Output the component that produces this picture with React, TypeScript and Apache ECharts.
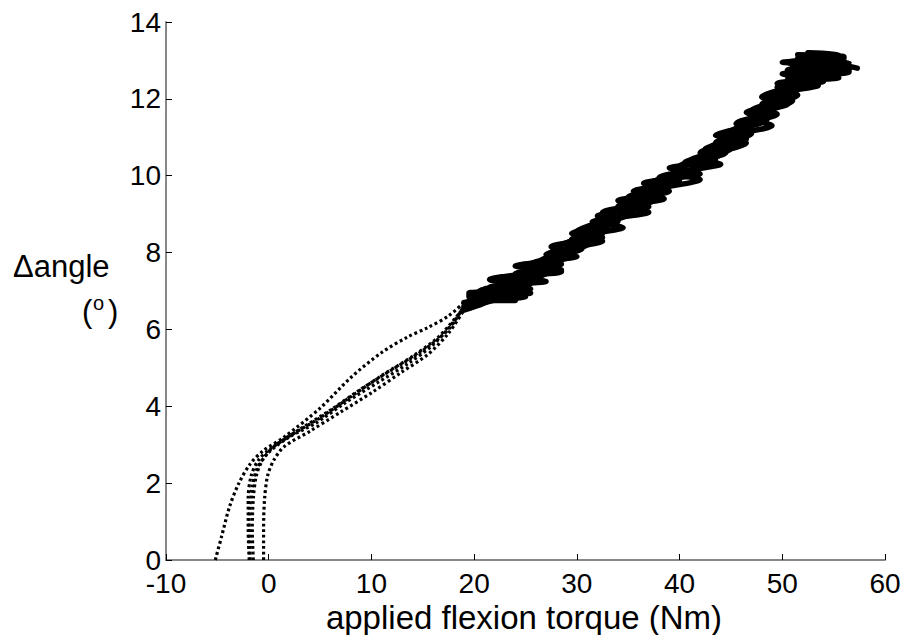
import React, { useEffect, useRef } from "react";
import * as echarts from "echarts";

// x: applied flexion torque (Nm), y: Δangle (deg)
const xTicks = [-10, 0, 10, 20, 30, 40, 50, 60];
const yTicks = [0, 2, 4, 6, 8, 10, 12, 14];
const xTitle = "applied flexion torque (Nm)";
const yTitle = "Δangle";

// initial (toe-region) portion of each trial, shown dotted
const approachA = [[-5.2,0],[-4.6,0.6],[-3.8,1.4],[-2.9,2.0],[-1.8,2.5],[-0.5,2.85],[1.5,3.2],[5.0,3.95],[8.0,4.75],[11.0,5.4],[13.5,5.8],[15.5,6.05],[17.5,6.35],[19.0,6.7]];
const approachB = [[-1.9,0],[-2.0,0.8],[-2.0,1.6],[-1.7,2.2],[-1.0,2.6],[0.2,2.9],[2.5,3.3],[5.0,3.7],[8.0,4.25],[11.0,4.8],[14.0,5.3],[16.5,5.8],[18.5,6.4],[19.5,6.75]];
const approachC = [[-1.5,0],[-1.6,0.8],[-1.5,1.6],[-1.2,2.2],[-0.6,2.6],[0.5,2.95],[3.0,3.4],[6.0,3.9],[9.0,4.45],[12.0,4.95],[15.0,5.45],[17.5,6.0],[19.0,6.6]];
const approachD = [[-1.8,0],[-1.9,1.0],[-1.6,1.9],[-1.1,2.4],[0.0,2.8],[2.0,3.2],[4.5,3.55],[7.5,4.1],[10.5,4.6],[13.5,5.1],[16.0,5.6],[18.0,6.2],[19.2,6.7]];
const approachE = [[-0.5,0],[-0.5,0.8],[-0.4,1.6],[-0.1,2.2],[0.5,2.6],[1.5,2.95],[4.0,3.35],[7.0,3.85],[10.0,4.35],[13.0,4.9],[15.5,5.35],[17.5,5.9],[19.0,6.5]];

// cyclic loading portion of each trial (dense, appears solid)
const loadingA = [[19.0,6.70],[25.0,6.85],[19.5,6.95],[25.5,7.05],[21.5,7.3],[28.5,7.55],[24.0,7.65],[29.5,7.9],[27.5,8.15],[32.5,8.4],[29.5,8.5],[34.0,8.8],[32.0,8.95],[37.0,9.2],[34.0,9.35],[39.0,9.6],[36.5,9.8],[42.0,10.05],[39.0,10.2],[43.5,10.4],[42.0,10.6],[46.5,10.95],[43.5,11.05],[48.5,11.45],[46.5,11.65],[50.5,11.85],[48.0,12.05],[53.0,12.5],[50.0,12.65],[56.5,12.75],[50.5,12.95],[56.0,13.1],[51.5,13.15],[57.3,12.8]];
const loadingB = [[19.5,6.75],[24.0,6.75],[21.0,6.85],[25.5,6.95],[23.0,7.15],[26.5,7.35],[24.0,7.45],[28.5,7.7],[26.5,7.8],[30.5,8.1],[29.0,8.25],[32.5,8.5],[31.0,8.6],[35.0,9.0],[33.5,9.1],[37.5,9.35],[36.0,9.5],[40.0,9.85],[38.5,9.95],[42.0,10.2],[41.0,10.3],[44.5,10.6],[43.0,10.75],[47.0,11.1],[46.0,11.3],[49.5,11.6],[48.0,11.75],[51.0,12.2],[50.0,12.35],[54.5,12.6],[50.5,12.75],[56.5,12.95],[51.5,13.05],[55.0,13.0]];
const loadingC = [[19.0,6.6],[22.5,6.8],[19.5,6.9],[25.0,7.0],[21.5,7.1],[27.0,7.25],[22.5,7.35],[28.5,7.5],[25.5,7.7],[30.0,7.9],[27.5,8.0],[32.5,8.3],[30.0,8.4],[34.5,8.65],[31.5,8.8],[37.0,9.05],[34.5,9.2],[38.5,9.4],[36.0,9.55],[42.0,9.9],[39.5,10.05],[44.0,10.3],[41.0,10.4],[46.5,10.85],[44.0,11.0],[49.0,11.3],[47.0,11.5],[51.0,11.95],[48.5,12.1],[53.5,12.35],[50.5,12.5],[56.5,12.7],[51.5,12.85],[55.5,13.15],[52.5,13.2],[56.0,13.05]];
const loadingD = [[19.2,6.7],[22.5,6.9],[20.5,7.0],[24.0,7.2],[22.0,7.3],[27.0,7.45],[25.5,7.65],[28.5,7.8],[27.0,7.95],[31.0,8.2],[29.5,8.35],[33.0,8.6],[31.5,8.75],[35.5,9.05],[34.0,9.2],[37.0,9.45],[35.5,9.6],[39.5,9.8],[38.0,9.95],[42.5,10.25],[40.5,10.35],[45.0,10.7],[43.5,10.85],[46.5,11.2],[45.5,11.35],[49.0,11.7],[48.0,11.85],[50.5,12.2],[49.5,12.4],[55.5,12.55],[51.5,12.7],[56.0,12.9],[50.0,12.95],[55.5,13.05]];
const loadingE = [[19.0,6.5],[21.5,6.75],[19.5,6.85],[23.0,6.95],[21.0,7.05],[25.5,7.2],[23.5,7.3],[27.0,7.55],[25.5,7.7],[29.5,8.0],[28.0,8.15],[31.5,8.45],[30.0,8.55],[33.5,8.95],[32.5,9.05],[36.5,9.3],[35.0,9.45],[39.0,9.75],[37.5,9.85],[41.0,10.1],[40.0,10.25],[44.0,10.55],[42.5,10.7],[46.5,11.0],[45.0,11.15],[48.5,11.55],[47.0,11.7],[51.5,12.1],[49.5,12.3],[54.0,12.45],[50.5,12.6],[56.5,12.8],[51.0,12.85],[54.5,13.0]];

const approaches = [approachA, approachB, approachC, approachD, approachE];
const loadings = [loadingA, loadingB, loadingC, loadingD, loadingE];

const FONT = "'Liberation Sans', Arial, sans-serif";

export default function App() {
  const ref = useRef<HTMLDivElement>(null);
  useEffect(() => {
    if (!ref.current) return;
    const chart = echarts.init(ref.current, null, { renderer: "svg" });
    const series: any[] = [];
    approaches.forEach((d, i) => {
      series.push({
        type: "line",
        name: "approach" + i,
        data: d,
        showSymbol: false,
        smooth: 0.3,
        lineStyle: { color: "#000", width: 3.2, type: [2.8, 2.8] },
        z: 3,
      });
    });
    loadings.forEach((d, i) => {
      series.push({
        type: "line",
        name: "loading" + i,
        data: d,
        showSymbol: false,
        smooth: 0.25,
        lineStyle: { color: "#000", width: 5.5, cap: "round", join: "round" },
        z: 3,
      });
    });
    chart.setOption({
      animation: false,
      backgroundColor: "#fff",
      grid: { left: 166, right: 21, top: 22, bottom: 75, containLabel: false, outerBoundsMode: "none" },
      xAxis: {
        type: "value",
        min: xTicks[0],
        max: xTicks[xTicks.length - 1],
        interval: 10,
        axisLine: { show: true, onZero: false, lineStyle: { color: "#888", width: 2 } },
        axisTick: { show: true, inside: true, length: 6, lineStyle: { color: "#000", width: 1 } },
        axisLabel: { fontFamily: FONT, fontSize: 28, lineHeight: 20, color: "#000", margin: 13 },
        splitLine: { show: false },
      },
      yAxis: {
        type: "value",
        min: yTicks[0],
        max: yTicks[yTicks.length - 1],
        interval: 2,
        axisLine: { show: true, onZero: false, lineStyle: { color: "#888", width: 2 } },
        axisTick: { show: true, inside: true, length: 6, lineStyle: { color: "#000", width: 1 } },
        axisLabel: { fontFamily: FONT, fontSize: 28, lineHeight: 20, color: "#000", margin: 5 },
        splitLine: { show: false },
      },
      graphic: [
        {
          type: "text",
          x: 524,
          y: 617,
          style: { text: xTitle, font: "33px " + FONT, fill: "#000", align: "center", verticalAlign: "middle" },
        },
        { type: "text", left: 13, top: 251, style: { text: yTitle, font: "31px " + FONT, fill: "#000" } },
        { type: "text", left: 82, top: 296, style: { text: "(", font: "31px " + FONT, fill: "#000" } },
        { type: "text", left: 93, top: 293, style: { text: "o", font: "20px " + FONT, fill: "#000" } },
        { type: "text", left: 108, top: 296, style: { text: ")", font: "31px " + FONT, fill: "#000" } },
      ],
      series,
    });
    return () => chart.dispose();
  }, []);
  return (
    <div
      ref={ref}
      style={{ position: "fixed", left: 0, top: 0, width: 906, height: 635, background: "#fff" }}
    />
  );
}
